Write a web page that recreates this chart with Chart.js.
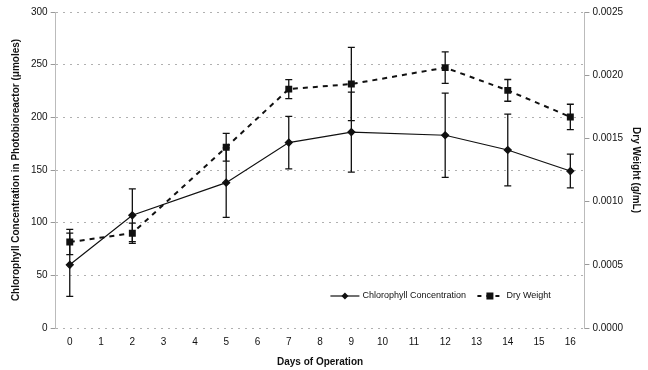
<!DOCTYPE html>
<html>
<head>
<meta charset="utf-8">
<script src="https://cdn.jsdelivr.net/npm/chart.js@4.4.0/dist/chart.umd.min.js"></script>
<style>
  body { margin: 0; background: #fff; }
  #wrap { width: 648px; height: 370px; }
</style>
</head>
<body>
<div id="wrap"><canvas id="myChart"></canvas></div>
<script>
var days = [0, 2, 5, 7, 9, 12, 14, 16];
var chlorophyll = [60, 107, 138, 176, 186, 183, 169, 149];
var chlorophyllErr = [30, 25, 33, 25, 38, 40, 34, 16];
var dryWeight = [0.00068, 0.00075, 0.00143, 0.00189, 0.00193, 0.00206, 0.00188, 0.00167];
var dryWeightErr = [0.0001, 0.00008, 0.00011, 0.000075, 0.00029, 0.000125, 0.000086, 0.0001];
var xTicks = [0, 1, 2, 3, 4, 5, 6, 7, 8, 9, 10, 11, 12, 13, 14, 15, 16];
var font = 'Liberation Sans, Arial, sans-serif';

// error bars drawn on top of the lines
var errorBars = {
    id: 'errorBars',
    afterDatasetsDraw: function (chart) {
        var ctx = chart.ctx;
        var xs = chart.scales.x;
        chart.data.datasets.forEach(function (ds) {
            var ys = chart.scales[ds.yAxisID];
            ctx.save();
            ctx.strokeStyle = '#111';
            ctx.lineWidth = 1.3;
            ctx.setLineDash([]);
            for (var i = 0; i < ds.data.length; i++) {
                var px = xs.getPixelForValue(ds.data[i].x);
                var top = ys.getPixelForValue(ds.data[i].y + ds.errors[i]);
                var bot = ys.getPixelForValue(ds.data[i].y - ds.errors[i]);
                ctx.beginPath();
                ctx.moveTo(px, top); ctx.lineTo(px, bot);
                ctx.moveTo(px - 3.5, top); ctx.lineTo(px + 3.5, top);
                ctx.moveTo(px - 3.5, bot); ctx.lineTo(px + 3.5, bot);
                ctx.stroke();
            }
            ctx.restore();
        });
    }
};

// legend in the lower right corner of the plot
var cornerLegend = {
    id: 'cornerLegend',
    afterDraw: function (chart) {
        var ctx = chart.ctx;
        var a = chart.chartArea;
        var y = a.bottom - 32;
        var x0 = a.right - 254;
        ctx.save();
        ctx.strokeStyle = '#111';
        ctx.fillStyle = '#111';
        ctx.lineWidth = 1.2;
        ctx.beginPath(); ctx.moveTo(x0, y); ctx.lineTo(x0 + 29, y); ctx.stroke();
        ctx.beginPath();
        ctx.moveTo(x0 + 14.5, y - 3.5); ctx.lineTo(x0 + 18, y);
        ctx.lineTo(x0 + 14.5, y + 3.5); ctx.lineTo(x0 + 11, y); ctx.closePath(); ctx.fill();
        ctx.font = '9px ' + font;
        ctx.textBaseline = 'middle';
        ctx.fillText('Chlorophyll Concentration', x0 + 32, y);
        var x1 = x0 + 147;
        ctx.lineWidth = 2;
        ctx.setLineDash([4, 5]);
        ctx.beginPath(); ctx.moveTo(x1, y); ctx.lineTo(x1 + 25, y); ctx.stroke();
        ctx.setLineDash([]);
        ctx.fillRect(x1 + 9, y - 3.5, 7, 7);
        ctx.fillText('Dry Weight', x1 + 29, y);
        ctx.restore();
    }
};

var ctx = document.getElementById('myChart').getContext('2d');
var myChart = new Chart(ctx, {
    type: 'line',
    data: {
        datasets: [{
            label: 'Chlorophyll Concentration',
            data: days.map(function (d, i) { return { x: d, y: chlorophyll[i] }; }),
            errors: chlorophyllErr,
            yAxisID: 'y',
            borderColor: '#111',
            backgroundColor: '#111',
            borderWidth: 1.2,
            pointStyle: 'rectRot',
            pointRadius: 3.5,
            pointHoverRadius: 3.5,
            tension: 0
        }, {
            label: 'Dry Weight',
            data: days.map(function (d, i) { return { x: d, y: dryWeight[i] }; }),
            errors: dryWeightErr,
            yAxisID: 'y1',
            borderColor: '#111',
            backgroundColor: '#111',
            borderWidth: 2,
            borderDash: [5, 5],
            pointStyle: 'rect',
            pointRadius: 3.5,
            pointHoverRadius: 3.5,
            tension: 0
        }]
    },
    options: {
        responsive: true,
        maintainAspectRatio: false,
        animation: false,
        layout: { padding: { left: 6, right: 2, top: 12, bottom: 2 } },
        plugins: {
            legend: { display: false },
            tooltip: { enabled: false }
        },
        scales: {
            x: {
                type: 'linear',
                min: -0.45,
                max: 16.45,
                afterBuildTicks: function (axis) {
                    axis.ticks = xTicks.map(function (v) { return { value: v }; });
                },
                grid: { display: false, drawTicks: false },
                border: { display: false },
                ticks: { color: '#111', font: { family: font, size: 10 }, padding: 8, maxRotation: 0 },
                title: { display: true, text: 'Days of Operation', color: '#111', font: { family: font, size: 10, weight: 'bold' }, padding: { top: 0, bottom: 0 } }
            },
            y: {
                position: 'left',
                min: 0,
                max: 300,
                ticks: { stepSize: 50, color: '#111', font: { family: font, size: 10 }, padding: 3 },
                grid: { color: '#b0b0b0', tickLength: 5, tickColor: '#999' },
                border: { display: true, color: '#bbb', dash: [2, 5] },
                title: { display: true, text: 'Chlorophyll Concentration in Photobioreactor (\u03bcmoles)', color: '#111', font: { family: font, size: 10, weight: 'bold' }, padding: { bottom: 6 } }
            },
            y1: {
                position: 'right',
                min: 0,
                max: 0.0025,
                ticks: {
                    stepSize: 0.0005, color: '#111', font: { family: font, size: 10 }, padding: 3,
                    callback: function (v) { return v.toFixed(4); }
                },
                grid: { drawOnChartArea: false, tickLength: 5, tickColor: '#999' },
                border: { display: true, color: '#bbb', dash: [2, 5] },
                title: { display: true, text: 'Dry Weight (g/mL)', color: '#111', font: { family: font, size: 10, weight: 'bold' }, padding: { top: 4, bottom: 4 } }
            }
        }
    },
    plugins: [errorBars, cornerLegend]
});
</script>
</body>
</html>
